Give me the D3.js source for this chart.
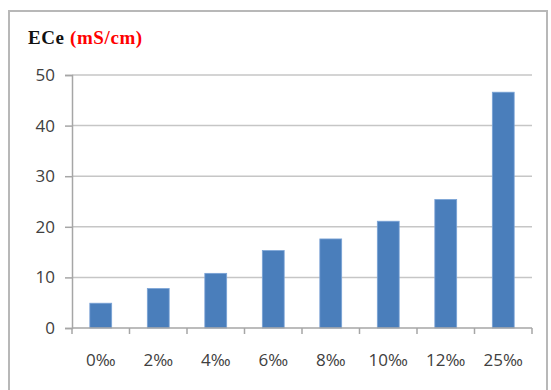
<!DOCTYPE html>
<html>
<head>
<meta charset="utf-8">
<script src="https://cdn.jsdelivr.net/npm/d3@7"></script>
<style>
  body { margin: 0; background: #fff; }
  svg { display: block; }
  .axis text { font-family: "Open Sans", "Liberation Sans", sans-serif; font-size: 17px; fill: #404040; }
</style>
</head>
<body>
<script>
const w = 551, h = 390;
const categories = ["0‰", "2‰", "4‰", "6‰", "8‰", "10‰", "12‰", "25‰"];
const values = [4.9, 7.8, 10.8, 15.3, 17.6, 21.1, 25.4, 46.6];
const yTicks = [0, 10, 20, 30, 40, 50];

const plotLeft = 72, plotRight = 532, plotTop = 75, plotBottom = 328;

const svg = d3.select("body")
    .append("svg")
    .attr("width", w)
    .attr("height", h);

// outer frame (bottom edge is cut off in the picture)
svg.append("rect")
    .attr("x", 9)
    .attr("y", 11)
    .attr("width", 538)
    .attr("height", 400)
    .attr("fill", "none")
    .attr("stroke", "#b8b8b8")
    .attr("stroke-width", 2);

const xScale = d3.scaleBand()
    .domain(categories)
    .range([plotLeft, plotRight])
    .paddingInner(0.62)
    .paddingOuter(0.31);

const yScale = d3.scaleLinear()
    .domain([0, 50])
    .range([plotBottom, plotTop]);

// gridlines
svg.append("g")
    .selectAll("line")
    .data(yTicks.filter(d => d > 0))
    .enter()
    .append("line")
    .attr("x1", plotLeft)
    .attr("x2", plotRight)
    .attr("y1", d => yScale(d))
    .attr("y2", d => yScale(d))
    .attr("stroke", "#c6c6c6")
    .attr("stroke-width", 1.5);

// bars
svg.append("g")
    .selectAll("rect")
    .data(values)
    .enter()
    .append("rect")
    .attr("x", (d, i) => xScale(categories[i]))
    .attr("y", d => yScale(d))
    .attr("width", xScale.bandwidth())
    .attr("height", d => plotBottom - yScale(d))
    .attr("fill", "#4a7ebb")
    .attr("stroke", "#7aa3d6")
    .attr("stroke-width", 0.8);

// Y axis
const yAxis = svg.append("g")
    .attr("class", "axis")
    .attr("transform", "translate(" + plotLeft + ",0)")
    .call(d3.axisLeft(yScale).tickValues(yTicks).tickSize(7).tickPadding(10));
yAxis.select(".domain").attr("stroke", "#a6a6a6").attr("stroke-width", 1.5);
yAxis.selectAll(".tick line").attr("stroke", "#a6a6a6").attr("stroke-width", 1.5);

// X axis: ticks on band boundaries
const xAxis = svg.append("g")
    .attr("class", "axis")
    .attr("transform", "translate(0," + plotBottom + ")");
xAxis.append("line")
    .attr("x1", plotLeft)
    .attr("x2", plotRight)
    .attr("stroke", "#a6a6a6")
    .attr("stroke-width", 1.5);
const step = (plotRight - plotLeft) / categories.length;
xAxis.selectAll(".bound")
    .data(d3.range(categories.length + 1))
    .enter()
    .append("line")
    .attr("x1", i => plotLeft + i * step)
    .attr("x2", i => plotLeft + i * step)
    .attr("y1", 0)
    .attr("y2", 6)
    .attr("stroke", "#a6a6a6")
    .attr("stroke-width", 1.5);
xAxis.selectAll("text")
    .data(categories)
    .enter()
    .append("text")
    .attr("x", d => xScale(d) + xScale.bandwidth() / 2)
    .attr("y", 38)
    .attr("text-anchor", "middle")
    .text(d => d);

// title
const title = svg.append("text")
    .attr("x", 28)
    .attr("y", 44)
    .attr("font-family", "'Liberation Serif', 'DejaVu Serif', serif")
    .attr("font-weight", "bold")
    .attr("font-size", 19)
    .attr("letter-spacing", 0.6);
title.append("tspan").attr("fill", "#111").text("ECe ");
title.append("tspan").attr("fill", "#ff0000").text("(mS/cm)");
</script>
</body>
</html>
